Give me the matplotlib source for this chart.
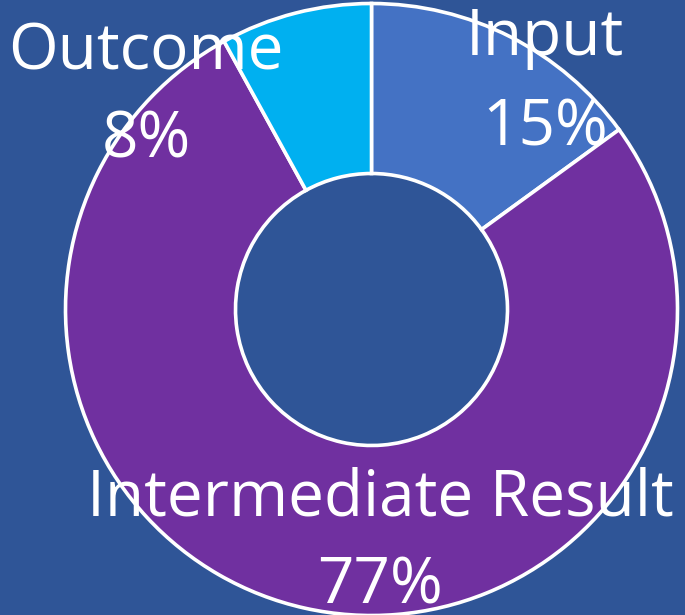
import matplotlib
matplotlib.use("Agg")
import matplotlib.pyplot as plt

categories = ["Input", "Intermediate Result", "Outcome"]
values = [15, 77, 8]
colors = ["#4472C4", "#7030A0", "#00B0F0"]
bg = "#2F5597"

W, H = 685, 615
fig = plt.figure(figsize=(W / 100, H / 100), dpi=100, facecolor=bg)
ax = fig.add_axes([0, 0, 1, 1])
ax.set_facecolor(bg)

cx, cy = 371.5, H - 309.5
R = 306
ax.pie(values, colors=colors, startangle=90, counterclock=False,
       center=(cx, cy), radius=R, frame=True,
       wedgeprops=dict(width=R - 136, edgecolor="white", linewidth=2.6))
ax.set_xlim(0, W)
ax.set_ylim(0, H)
ax.set_aspect("equal")
ax.axis("off")

font = dict(family="Open Sans", color="white", fontsize=46, ha="center", va="baseline")
labels_pos = {
    "Input": (545, 55, 145),
    "Intermediate Result": (380, 515, 603),
    "Outcome": (146, 70, 158),
}
for cat, v in zip(categories, values):
    x, y1, y2 = labels_pos[cat]
    ax.text(x, H - y1, cat, **font)
    ax.text(x, H - y2, f"{v}%", **font)

fig.savefig("out.png", dpi=100, facecolor=bg)
